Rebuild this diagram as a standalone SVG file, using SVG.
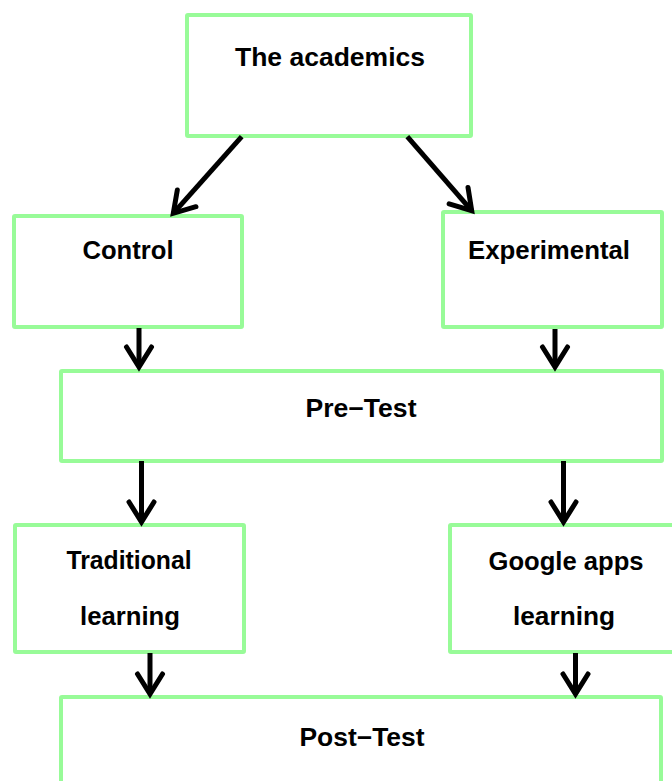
<svg xmlns="http://www.w3.org/2000/svg" width="672" height="781" viewBox="0 0 672 781">
  <style>
    .box { fill: #ffffff; stroke: #98fb98; stroke-width: 4; }
    .lbl { font-family: "Liberation Sans", Arial, sans-serif; font-weight: bold; font-size: 25px; fill: #000000; text-anchor: middle; }
    .conn { stroke: #000000; stroke-width: 5; fill: none; }
  </style>
  <defs>
    <marker id="arrow" markerUnits="userSpaceOnUse" markerWidth="40" markerHeight="40" viewBox="-30 -20 40 40" refX="0" refY="0" orient="auto" overflow="visible">
      <path d="M -20 -12.5 L 0 0 L -20 12.5" fill="none" stroke="#000000" stroke-width="5" stroke-linecap="round" stroke-linejoin="miter"/>
    </marker>
  </defs>
  <rect width="672" height="781" fill="#ffffff"/>

  <g id="academics">
    <rect class="box" x="187" y="15" width="284" height="121" rx="1"/>
    <text class="lbl" x="330" y="66" textLength="190" lengthAdjust="spacingAndGlyphs">The academics</text>
  </g>
  <g id="control">
    <rect class="box" x="14" y="216" width="228" height="111" rx="1"/>
    <text class="lbl" x="128" y="259" textLength="91" lengthAdjust="spacingAndGlyphs">Control</text>
  </g>
  <g id="experimental">
    <rect class="box" x="443" y="212" width="219" height="115" rx="1"/>
    <text class="lbl" x="549" y="259" textLength="162" lengthAdjust="spacingAndGlyphs">Experimental</text>
  </g>
  <g id="pretest">
    <rect class="box" x="61" y="371" width="601" height="90" rx="1"/>
    <text class="lbl" x="361" y="417" textLength="111" lengthAdjust="spacingAndGlyphs">Pre−Test</text>
  </g>
  <g id="traditional">
    <rect class="box" x="15" y="525" width="229" height="127" rx="1"/>
    <text class="lbl" x="129" y="569" textLength="125" lengthAdjust="spacingAndGlyphs">Traditional</text>
    <text class="lbl" x="130" y="625" textLength="100" lengthAdjust="spacingAndGlyphs">learning</text>
  </g>
  <g id="google">
    <rect class="box" x="450" y="525" width="226" height="127" rx="1"/>
    <text class="lbl" x="566" y="570" textLength="155" lengthAdjust="spacingAndGlyphs">Google apps</text>
    <text class="lbl" x="564" y="625" textLength="102" lengthAdjust="spacingAndGlyphs">learning</text>
  </g>
  <g id="posttest">
    <rect class="box" x="61" y="697" width="600" height="110" rx="1"/>
    <text class="lbl" x="362" y="746" textLength="125" lengthAdjust="spacingAndGlyphs">Post−Test</text>
  </g>

  <g id="connectors">
    <line class="conn" x1="241.7" y1="136.7" x2="173.3" y2="213.3" marker-end="url(#arrow)"/>
    <line class="conn" x1="407.3" y1="136.7" x2="471.7" y2="210.7" marker-end="url(#arrow)"/>
    <line class="conn" x1="139" y1="328" x2="139" y2="367" marker-end="url(#arrow)"/>
    <line class="conn" x1="555" y1="329" x2="555" y2="367" marker-end="url(#arrow)"/>
    <line class="conn" x1="141.5" y1="461" x2="141.5" y2="522" marker-end="url(#arrow)"/>
    <line class="conn" x1="563.5" y1="461" x2="563.5" y2="522" marker-end="url(#arrow)"/>
    <line class="conn" x1="150" y1="653" x2="150" y2="694" marker-end="url(#arrow)"/>
    <line class="conn" x1="575.5" y1="653" x2="575.5" y2="694" marker-end="url(#arrow)"/>
  </g>
</svg>
